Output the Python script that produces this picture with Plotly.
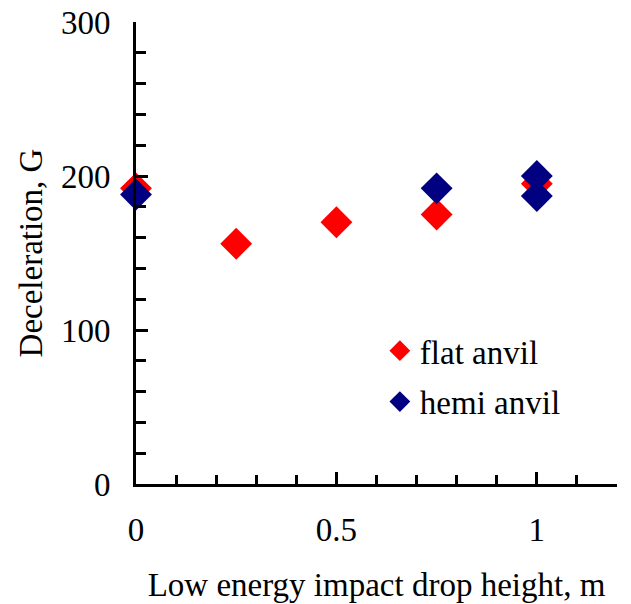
import plotly.graph_objects as go

flat_x = [0, 0.25, 0.5, 0.75, 1.0]
flat_y = [192, 156, 170, 175, 195]
hemi_x = [0, 0.75, 1.0, 1.0]
hemi_y = [188, 192, 200, 187]

FONT = "Liberation Serif"

fig = go.Figure()
fig.add_trace(go.Scatter(x=flat_x, y=flat_y, mode="markers", name="flat anvil",
                         legendgroup="a",
                         marker=dict(symbol="diamond", size=24.5, color="#FF0000"),
                         cliponaxis=False))
fig.add_trace(go.Scatter(x=hemi_x, y=hemi_y, mode="markers", name="hemi anvil",
                         legendgroup="b",
                         marker=dict(symbol="diamond", size=24.5, color="#000080"),
                         cliponaxis=False))

fig.update_layout(
    width=631, height=604,
    margin=dict(l=128, r=22, t=14, b=128),
    paper_bgcolor="white", plot_bgcolor="white",
    font=dict(family=FONT, size=33, color="black"),
    showlegend=True,
    legend=dict(x=0.507, y=0.349, xanchor="left", yanchor="top",
                bgcolor="rgba(0,0,0,0)", font=dict(family=FONT, size=33),
                tracegroupgap=5, traceorder="grouped"),
    xaxis=dict(range=[0, 1.2], dtick=0.5, tick0=0, showgrid=False, zeroline=False,
               automargin=False, ticklabeloverflow="allow",
               showline=True, linewidth=3, linecolor="black",
               ticks="inside", ticklen=12, tickwidth=3, tickcolor="black",
               ticklabelstandoff=14,
               minor=dict(dtick=0.1, ticks="inside", ticklen=9, tickwidth=3, tickcolor="black", showgrid=False),
               title=dict(text="Low energy impact drop height, m", standoff=27,
                          font=dict(family=FONT, size=33))),
    yaxis=dict(range=[0, 300], dtick=100, tick0=0, showgrid=False, zeroline=False,
               automargin=False, ticklabeloverflow="allow",
               showline=True, linewidth=3, linecolor="black",
               ticks="inside", ticklen=12, tickwidth=3, tickcolor="black",
               ticklabelstandoff=16,
               minor=dict(dtick=20, ticks="inside", ticklen=10, tickwidth=3, tickcolor="black", showgrid=False),
               title=dict(text="Deceleration, G", standoff=9,
                          font=dict(family=FONT, size=33))),
)

fig.write_html("out.html")
